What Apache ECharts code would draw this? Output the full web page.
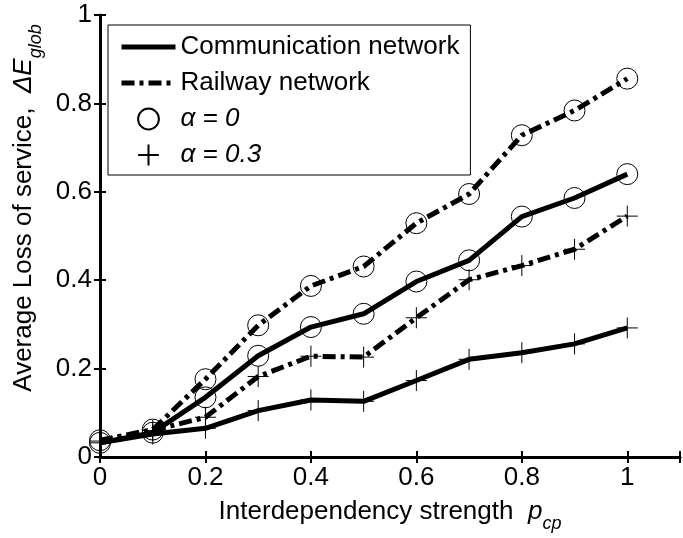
<!DOCTYPE html>
<html>
<head>
<meta charset="utf-8">
<script src="https://cdn.jsdelivr.net/npm/echarts@6/dist/echarts.min.js"></script>
<style>
html,body{margin:0;padding:0;background:#fff;}
#chart{width:683px;height:538px;}
</style>
</head>
<body>
<div id="chart"></div>
<script>
// ---- data ----
var xValues = [0, 0.1, 0.2, 0.3, 0.4, 0.5, 0.6, 0.7, 0.8, 0.9, 1];
var commAlpha0  = [0.032, 0.055, 0.135, 0.229, 0.294, 0.324, 0.397, 0.445, 0.544, 0.586, 0.640];
var railAlpha0  = [0.038, 0.062, 0.176, 0.298, 0.387, 0.431, 0.529, 0.595, 0.728, 0.784, 0.856];
var commAlpha03 = [0.032, 0.052, 0.065, 0.105, 0.129, 0.126, 0.173, 0.221, 0.236, 0.256, 0.292];
var railAlpha03 = [0.036, 0.060, 0.090, 0.182, 0.228, 0.226, 0.315, 0.401, 0.433, 0.470, 0.545];
var xTickLabels = ['0', '0.2', '0.4', '0.6', '0.8', '1'];
var yTickLabels = ['0', '0.2', '0.4', '0.6', '0.8', '1'];
var legendNames = ['Communication network', 'Railway network', 'α = 0', 'α = 0.3'];

function pairs(ys) { return xValues.map(function (x, i) { return [x, ys[i]]; }); }

var FONT = 'Liberation Sans, Arial, Helvetica, sans-serif';
var DASHDOT = [13, 5, 4, 5];
var PLUS = 'path://M10,0L10,20M0,10L20,10';

function tickLabel(list) {
  return function (v) {
    for (var i = 0; i < list.length; i++) {
      if (Math.abs(parseFloat(list[i]) - v) < 1e-6) return list[i];
    }
    return '';
  };
}

var chart = echarts.init(document.getElementById('chart'), null, {renderer: 'canvas'});

function dataSeries(name, ys, dash, symbol) {
  return {
    name: name, type: 'line', data: pairs(ys),
    symbol: symbol, symbolSize: 21, showSymbol: true, showAllSymbol: true,
    lineStyle: {color: '#000', width: 5, type: dash, cap: 'butt'},
    itemStyle: {color: 'rgba(0,0,0,0)', borderColor: '#000', borderWidth: 1},
    emphasis: {disabled: true}, z: 3
  };
}

var axisCommon = {
  axisLine: {show: true, lineStyle: {color: '#000', width: 3}},
  axisTick: {show: true, inside: true, length: 6, lineStyle: {color: '#000', width: 2}},
  splitLine: {show: false}
};

function titleRich() {
  return {
    n: {fontSize: 26, fontFamily: FONT, color: '#000', lineHeight: 26, verticalAlign: 'top'},
    i: {fontSize: 26, fontFamily: FONT, color: '#000', fontStyle: 'italic', lineHeight: 26, verticalAlign: 'top'},
    s: {fontSize: 18, fontFamily: FONT, color: '#000', fontStyle: 'italic', lineHeight: 34, verticalAlign: 'bottom'}
  };
}

var option = {
  animation: false,
  backgroundColor: '#fff',
  grid: {left: 100, right: 1, top: 15, bottom: 80, containLabel: false},
  xAxis: [
    Object.assign({}, axisCommon, {
      type: 'value', min: 0, max: 1.1, interval: 0.2, position: 'bottom',
      axisLabel: {fontSize: 26, color: '#000', fontFamily: FONT, margin: 8, formatter: tickLabel(xTickLabels), showMaxLabel: true},
      name: '{n|Interdependency strength  }{i|p}{s|cp}',
      nameLocation: 'middle', nameGap: 42,
      nameTextStyle: {color: '#000', fontFamily: FONT, fontSize: 26, rich: titleRich()}
    }),
    Object.assign({}, axisCommon, {
      type: 'value', min: 0, max: 1.1, interval: 0.2, position: 'top',
      axisLine: {show: true, lineStyle: {color: '#000', width: 2}},
      axisLabel: {show: false}
    })
  ],
  yAxis: [
    Object.assign({}, axisCommon, {
      type: 'value', min: 0, max: 1, interval: 0.2, position: 'left',
      axisLabel: {fontSize: 26, color: '#000', fontFamily: FONT, margin: 8, formatter: tickLabel(yTickLabels)},
      name: '{n|Average Loss of service,  }{i|ΔE}{s|glob}',
      nameLocation: 'middle', nameGap: 46, nameRotate: 90,
      nameTextStyle: {color: '#000', fontFamily: FONT, fontSize: 26, padding: [0, 0, 0, 56], rich: titleRich()}
    }),
    Object.assign({}, axisCommon, {
      type: 'value', min: 0, max: 1, interval: 0.2, position: 'right',
      axisLine: {show: true, lineStyle: {color: '#000', width: 2}},
      axisLabel: {show: false}
    })
  ],
  legend: {
    data: [
      {name: legendNames[0], lineStyle: {width: 5}},
      {name: legendNames[1], lineStyle: {width: 5}},
      {name: legendNames[2]},
      {name: legendNames[3]}
    ],
    orient: 'vertical', left: 108, top: 25,
    padding: [9, 11, 7, 11], itemGap: 10, itemWidth: 54, itemHeight: 26,
    borderColor: '#000', borderWidth: 1, backgroundColor: '#fff',
    selectedMode: false,
    textStyle: {fontSize: 26, color: '#000', fontFamily: FONT,
      rich: {a: {fontSize: 26, color: '#000', fontFamily: FONT, fontStyle: 'italic'}}},
    formatter: function (n) { return n.charAt(0) === 'α' ? '{a|' + n + '}' : n; },
    z: 10
  },
  series: [
    {name: legendNames[0], type: 'line', data: [], symbol: 'none',
     lineStyle: {color: '#000', width: 5, type: 'solid'}, itemStyle: {color: 'rgba(0,0,0,0)', borderWidth: 0, opacity: 0}},
    {name: legendNames[1], type: 'line', data: [], symbol: 'none',
     lineStyle: {color: '#000', width: 5, type: DASHDOT}, itemStyle: {color: 'rgba(0,0,0,0)', borderWidth: 0, opacity: 0}},
    {name: legendNames[2], type: 'line', data: [], symbol: 'circle',
     lineStyle: {color: '#000', width: 0, opacity: 0}, itemStyle: {color: 'rgba(0,0,0,0)', borderColor: '#000', borderWidth: 1}},
    {name: legendNames[3], type: 'line', data: [], symbol: PLUS,
     lineStyle: {color: '#000', width: 0, opacity: 0}, itemStyle: {color: 'rgba(0,0,0,0)', borderColor: '#000', borderWidth: 1}},
    dataSeries('Communication network, α = 0', commAlpha0, 'solid', 'circle'),
    dataSeries('Railway network, α = 0', railAlpha0, DASHDOT, 'circle'),
    dataSeries('Communication network, α = 0.3', commAlpha03, 'solid', PLUS),
    dataSeries('Railway network, α = 0.3', railAlpha03, DASHDOT, PLUS)
  ]
};
chart.setOption(option);
</script>
</body>
</html>
